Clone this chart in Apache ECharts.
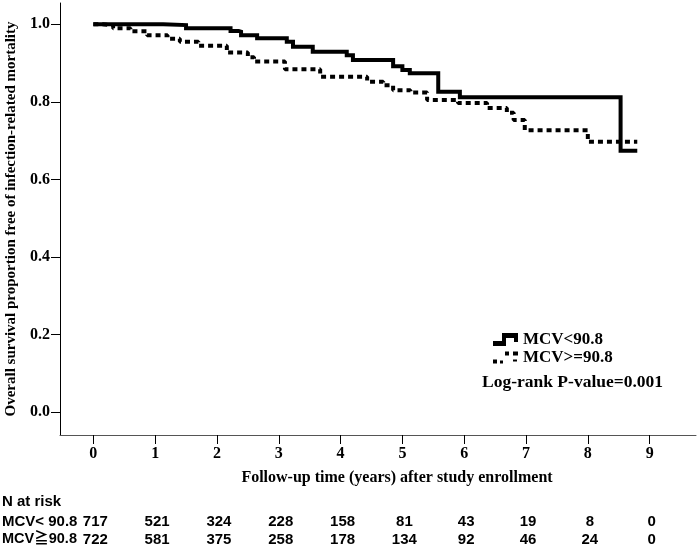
<!DOCTYPE html>
<html>
<head>
<meta charset="utf-8">
<script src="https://cdn.jsdelivr.net/npm/echarts@6/dist/echarts.min.js"></script>
<style>
  html, body { margin: 0; padding: 0; background: #fff; }
  #km { width: 698px; height: 545px; }
</style>
</head>
<body>
<div id="km"></div>
<script>
// step points: time (years) / survival proportion
const lowTimes = [0, 1.13, 1.5, 2.22, 2.35, 2.39, 2.65, 3.13, 3.23, 3.55, 4.1, 4.2, 4.85, 5.0, 5.12, 5.58, 5.93, 8.53, 8.8];
const lowSurv = [1.0, 0.998, 0.99, 0.983, 0.981, 0.972, 0.964, 0.955, 0.942, 0.929, 0.92, 0.908, 0.892, 0.882, 0.874, 0.826, 0.812, 0.674, 0.674];
const highTimes = [0, 0.15, 0.32, 0.6, 0.87, 1.2, 1.4, 1.7, 2.16, 2.5, 2.6, 3.1, 3.67, 4.43, 4.69, 4.85, 5.13, 5.4, 5.9, 6.37, 6.69, 6.8, 6.98, 8.0, 8.8];
const highSurv = [1.0, 0.997, 0.99, 0.982, 0.972, 0.963, 0.955, 0.945, 0.927, 0.915, 0.904, 0.884, 0.865, 0.852, 0.843, 0.83, 0.824, 0.805, 0.797, 0.784, 0.772, 0.753, 0.727, 0.697, 0.697];

const xTicks = [0, 1, 2, 3, 4, 5, 6, 7, 8, 9];
const yTicks = [0, 0.2, 0.4, 0.6, 0.8, 1.0];
const riskLow = [717, 521, 324, 228, 158, 81, 43, 19, 8, 0];
const riskHigh = [722, 581, 375, 258, 178, 134, 92, 46, 24, 0];

const serif = '"Liberation Serif", "Times New Roman", serif';
const sans = '"Liberation Sans", Arial, "Noto Sans CJK SC", sans-serif';

const chart = echarts.init(document.getElementById('km'));

const riskAxis = (offset, counts) => ({
  type: 'value',
  min: -0.539,
  max: 9.75,
  position: 'bottom',
  offset: offset,
  axisLine: { show: false, onZero: false },
  axisTick: { show: false },
  splitLine: { show: false },
  axisLabel: {
    customValues: xTicks,
    margin: 0,
    padding: [0, 0, 0, 4],
    formatter: (v) => String(counts[Math.round(v)]),
    fontFamily: sans,
    fontWeight: 'bold',
    fontSize: 15,
    color: '#000',
  },
});

const option = {
  animation: false,
  backgroundColor: '#fff',
  grid: { left: 60, right: 2, top: 3, bottom: 110, containLabel: false, outerBoundsMode: 'none' },
  legend: {
    left: 488,
    top: 326,
    orient: 'vertical',
    itemWidth: 25,
    itemHeight: 14,
    itemGap: 1,
    selectedMode: false,
    textStyle: { fontFamily: serif, fontWeight: 'bold', fontSize: 17, color: '#000' },
    data: [
      { name: 'MCV<90.8', icon: 'path://M0,8L9,8L9,0L25,0L25,9L21,9L21,5L13,5L13,13L0,13Z' },
      { name: 'MCV>=90.8', icon: 'path://M0,9h4v4h-4ZM7,10h3v3h-3ZM12,1h4v4h-4ZM20,1h5v4h-5ZM20,9h4v2h-4Z' },
    ],
  },
  graphic: [
    { type: 'text', left: 482, top: 373, style: { text: 'Log-rank P-value=0.001', font: 'bold 17.5px ' + serif, fill: '#000' } },
    { type: 'text', left: 2, top: 494, style: { text: 'N at risk', font: 'bold 15px ' + sans, fill: '#000' } },
    { type: 'text', left: 2, top: 514, style: { text: 'MCV< 90.8', font: 'bold 15px ' + sans, fill: '#000' } },
    { type: 'text', left: 2, top: 532, style: { text: 'MCV\u226790.8', font: 'bold 14.5px ' + sans, fill: '#000' } },
  ],
  xAxis: [
    {
      type: 'value',
      min: -0.539,
      max: 9.75,
      name: 'Follow-up time (years) after study enrollment',
      nameLocation: 'middle',
      nameGap: 35,
      nameTextStyle: { fontFamily: serif, fontWeight: 'bold', fontSize: 16, color: '#000', padding: [0, 0, 0, 38] },
      axisLine: { onZero: false, lineStyle: { color: '#555', width: 1 } },
      axisTick: { customValues: xTicks, length: 9, lineStyle: { color: '#000', width: 1 } },
      axisLabel: {
        customValues: xTicks,
        margin: 11,
        fontFamily: serif,
        fontWeight: 'bold',
        fontSize: 16,
        color: '#000',
      },
      splitLine: { show: false },
    },
    riskAxis(79, riskLow),
    riskAxis(97, riskHigh),
  ],
  yAxis: {
    type: 'value',
    min: -0.0593,
    max: 1.055,
    name: 'Overall survival proportion free of infection-related mortality',
    nameLocation: 'middle',
    nameGap: 38,
    nameTextStyle: { fontFamily: serif, fontWeight: 'bold', fontSize: 15, color: '#000' },
    axisLine: { show: true, onZero: false, lineStyle: { color: '#000', width: 1 } },
    axisTick: { show: true, customValues: yTicks, length: 9, lineStyle: { color: '#000' } },
    axisLabel: {
      customValues: yTicks,
      margin: 10,
      formatter: (v) => v.toFixed(1),
      fontFamily: serif,
      fontWeight: 'bold',
      fontSize: 16,
      color: '#000',
    },
    splitLine: { show: false },
  },
  series: [
    {
      name: 'MCV<90.8',
      type: 'line',
      step: 'end',
      symbol: 'none',
      color: '#000',
      itemStyle: { color: '#000' },
      lineStyle: { color: '#000', width: 4, cap: 'butt', join: 'miter' },
      data: lowTimes.map((t, i) => [t, lowSurv[i]]),
    },
    {
      name: 'MCV>=90.8',
      type: 'line',
      step: 'end',
      symbol: 'none',
      color: '#000',
      itemStyle: { color: '#000' },
      lineStyle: { color: '#000', width: 4, type: [5, 4], cap: 'butt' },
      data: highTimes.map((t, i) => [t, highSurv[i]]),
    },
  ],
};

chart.setOption(option);
window.addEventListener('resize', () => {
  chart.resize();
});
</script>
</body>
</html>
